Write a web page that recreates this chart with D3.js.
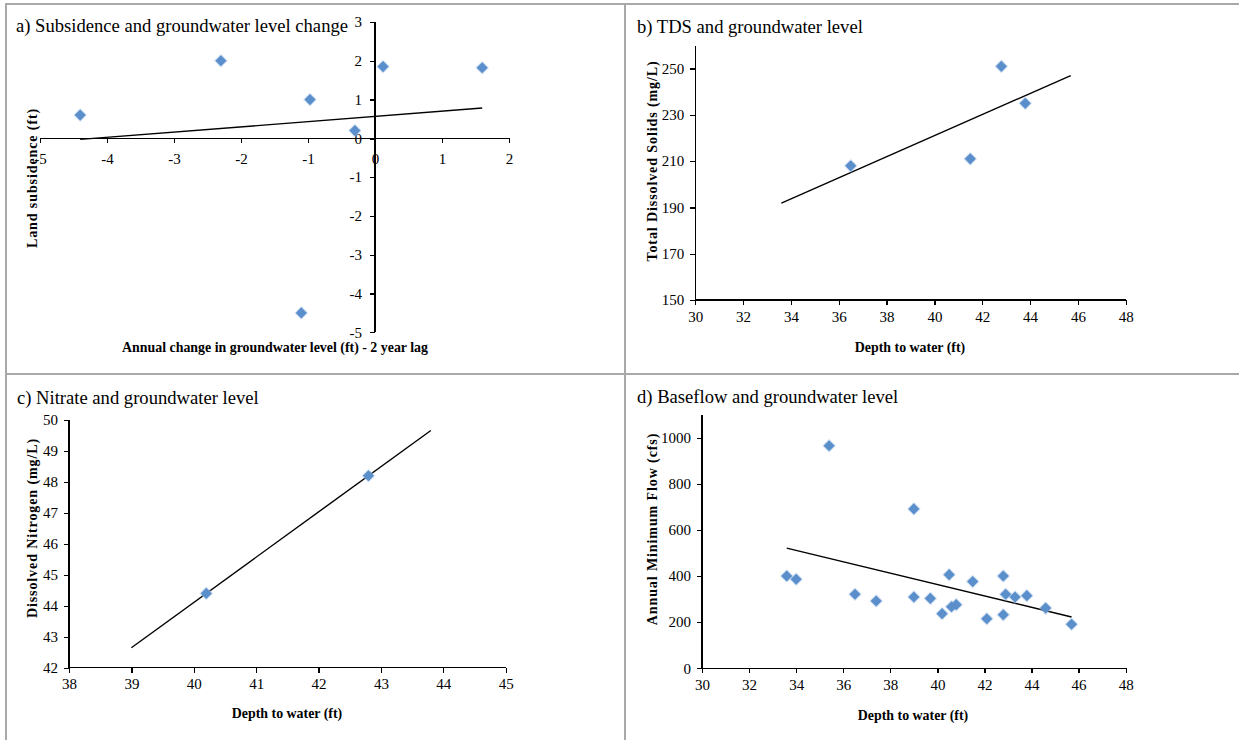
<!DOCTYPE html>
<html>
<head>
<meta charset="utf-8">
<script src="https://cdn.jsdelivr.net/npm/d3@7"></script>
<style>
  html, body { margin: 0; padding: 0; background: #fff; }
  svg { display: block; }
  .axis path, .axis line { stroke: #000; stroke-width: 1.3; shape-rendering: crispEdges; }
  .ptitle { font-family: "Liberation Serif", "Times New Roman", serif; font-size: 18.6px; fill: #000; }
  .atitle { font-family: "Liberation Serif", "Times New Roman", serif; font-size: 13.9px; font-weight: bold; fill: #000; }
  .ytitle { letter-spacing: 0.9px; font-size: 14px; }
</style>
</head>
<body>
<svg id="chart" width="1239" height="740"></svg>
<script>
// a) Subsidence vs annual change in groundwater level (2-year lag)
const subsGwChange = [-4.4, -2.3, -0.97, -0.3, 0.12, 1.6, -1.1];
const subsValues   = [0.6, 2.0, 1.0, 0.2, 1.85, 1.82, -4.5];
const subsXTicks   = [-5, -4, -3, -2, -1, 0, 1, 2];
const subsYTicks   = [-5, -4, -3, -2, -1, 0, 1, 2, 3];

// b) Total dissolved solids vs depth to water
const tdsDepth  = [36.5, 41.5, 42.8, 43.8];
const tdsValues = [208, 211, 251, 235];
const tdsTrendRange = [33.6, 45.7];
const tdsXTicks = [30, 32, 34, 36, 38, 40, 42, 44, 46, 48];
const tdsYTicks = [150, 170, 190, 210, 230, 250];

// c) Dissolved nitrogen vs depth to water
const nitDepth  = [40.2, 42.8];
const nitValues = [44.4, 48.2];
const nitTrendRange = [39.0, 43.8];
const nitXTicks = [38, 39, 40, 41, 42, 43, 44, 45];
const nitYTicks = [42, 43, 44, 45, 46, 47, 48, 49, 50];

// d) Annual minimum flow vs depth to water
const flowDepth  = [33.6, 34.0, 35.4, 36.5, 37.4, 39.0, 39.0, 39.7, 40.2, 40.5, 40.6,
                    40.8, 41.5, 42.1, 42.8, 42.8, 42.9, 43.3, 43.8, 44.6, 45.7];
const flowValues = [400, 386, 965, 321, 292, 691, 309, 303, 237, 406, 267,
                    276, 376, 215, 400, 232, 321, 309, 315, 261, 191];
const flowXTicks = [30, 32, 34, 36, 38, 40, 42, 44, 46, 48];
const flowYTicks = [0, 200, 400, 600, 800, 1000];

const svg = d3.select("#chart");
const serif = '"Liberation Serif", "Times New Roman", serif';
const markerColor = "#5a8fcc";

// Panel frame lines
const frame = svg.append("g").attr("stroke", "#a9a9a9").attr("stroke-width", 2);
frame.append("line").attr("x1", 5).attr("x2", 1239).attr("y1", 4).attr("y2", 4);
frame.append("line").attr("x1", 6).attr("x2", 6).attr("y1", 3).attr("y2", 740);
frame.append("line").attr("x1", 625).attr("x2", 625).attr("y1", 3).attr("y2", 740);
frame.append("line").attr("x1", 6).attr("x2", 1239).attr("y1", 374).attr("y2", 374);

// Soft halo for markers
const defs = svg.append("defs");
defs.append("filter").attr("id", "halo").attr("x", "-50%").attr("y", "-50%")
  .attr("width", "200%").attr("height", "200%")
  .append("feGaussianBlur").attr("stdDeviation", 0.6);

function linearFit(xs, ys) {
  const mx = d3.mean(xs), my = d3.mean(ys);
  const sxy = d3.sum(xs, (x, i) => (x - mx) * (ys[i] - my));
  const sxx = d3.sum(xs, x => (x - mx) * (x - mx));
  const slope = sxy / sxx;
  return x => my + slope * (x - mx);
}

const diamond = d3.symbol().type(d3.symbolSquare).size(62);
const plainNum = d => String(d);

function styleTicks(sel) {
  sel.attr("font-family", serif).attr("font-size", 15);
  sel.selectAll("text").attr("fill", "#000");
}

function drawPanel(opt) {
  const g = svg.append("g");
  const x = d3.scaleLinear().domain(opt.xDomain).range(opt.xRange);
  const y = d3.scaleLinear().domain(opt.yDomain).range(opt.yRange);
  const xAxisY = opt.crossAtZero ? y(0) : opt.yRange[0];
  const yAxisX = opt.crossAtZero ? x(0) : opt.xRange[0];

  const xa = g.append("g").attr("class", "axis")
    .attr("transform", `translate(0,${xAxisY})`)
    .call(d3.axisBottom(x).tickValues(opt.xTicks).tickFormat(plainNum)
      .tickSize(5).tickSizeOuter(0).tickPadding(opt.xPad || 6))
    .call(styleTicks);
  const ya = g.append("g").attr("class", "axis")
    .attr("transform", `translate(${yAxisX},0)`)
    .call(d3.axisLeft(y).tickValues(opt.yTicks).tickFormat(plainNum)
      .tickSize(5).tickSizeOuter(0).tickPadding(opt.yPad || 6))
    .call(styleTicks);
  ya.select(".domain").attr("d", `M0,${opt.yRange[0]}V${opt.yRange[1]}`);
  xa.select(".domain").attr("d", `M${opt.xRange[0]},0H${opt.xRange[1]}`);

  // trendline
  const fit = linearFit(opt.xs, opt.ys);
  const tr = opt.trendRange || d3.extent(opt.xs);
  g.append("line")
    .attr("x1", x(tr[0])).attr("y1", y(fit(tr[0])))
    .attr("x2", x(tr[1])).attr("y2", y(fit(tr[1])))
    .attr("stroke", "#000").attr("stroke-width", 1.4);

  // markers
  const pts = g.append("g");
  pts.selectAll("path.halo").data(opt.xs).join("path").attr("class", "halo")
    .attr("d", d3.symbol().type(d3.symbolSquare).size(90)())
    .attr("transform", (d, i) => `translate(${x(d)},${y(opt.ys[i])}) rotate(45)`)
    .attr("fill", "#a9c4e6").attr("opacity", 0.6).attr("filter", "url(#halo)");
  pts.selectAll("path.pt").data(opt.xs).join("path").attr("class", "pt")
    .attr("d", diamond())
    .attr("transform", (d, i) => `translate(${x(d)},${y(opt.ys[i])}) rotate(45)`)
    .attr("fill", markerColor);

  // titles
  g.append("text").attr("class", "ptitle")
    .attr("x", opt.title[1]).attr("y", opt.title[2]).text(opt.title[0]);
  g.append("text").attr("class", "atitle").attr("text-anchor", "middle")
    .attr("x", opt.xTitle[1]).attr("y", opt.xTitle[2]).text(opt.xTitle[0]);
  g.append("text").attr("class", "atitle ytitle").attr("text-anchor", "middle")
    .attr("transform", `translate(${opt.yTitle[1]},${opt.yTitle[2]}) rotate(-90)`)
    .text(opt.yTitle[0]);
}

drawPanel({
  xs: subsGwChange, ys: subsValues,
  xDomain: [-5, 2], xRange: [40, 509],
  yDomain: [-5, 3], yRange: [332.3, 22],
  xTicks: subsXTicks, yTicks: subsYTicks,
  crossAtZero: true, xPad: 10, yPad: 8,
  title: ["a) Subsidence and groundwater level change", 16, 32],
  xTitle: ["Annual change in groundwater level (ft) - 2 year lag", 275, 352],
  yTitle: ["Land subsidence (ft)", 37, 178]
});

drawPanel({
  xs: tdsDepth, ys: tdsValues, trendRange: tdsTrendRange,
  xDomain: [30, 48], xRange: [695.3, 1125.7],
  yDomain: [150, 260], yRange: [300, 45.5],
  xTicks: tdsXTicks, yTicks: tdsYTicks,
  title: ["b) TDS and groundwater level", 637, 33],
  xTitle: ["Depth to water (ft)", 910, 352],
  yTitle: ["Total Dissolved Solids (mg/L)", 657, 161]
});

drawPanel({
  xs: nitDepth, ys: nitValues, trendRange: nitTrendRange,
  xDomain: [38, 45], xRange: [69, 505.7],
  yDomain: [42, 50], yRange: [667.7, 420],
  xTicks: nitXTicks, yTicks: nitYTicks,
  title: ["c) Nitrate and groundwater level", 17, 404],
  xTitle: ["Depth to water (ft)", 287, 718],
  yTitle: ["Dissolved Nitrogen (mg/L)", 37, 528]
});

drawPanel({
  xs: flowDepth, ys: flowValues,
  xDomain: [30, 48], xRange: [702, 1125.7],
  yDomain: [0, 1100], yRange: [668.3, 414.6],
  xTicks: flowXTicks, yTicks: flowYTicks,
  title: ["d) Baseflow and groundwater level", 637, 403],
  xTitle: ["Depth to water (ft)", 913, 720],
  yTitle: ["Annual Minimum Flow (cfs)", 657, 529]
});
</script>
</body>
</html>
